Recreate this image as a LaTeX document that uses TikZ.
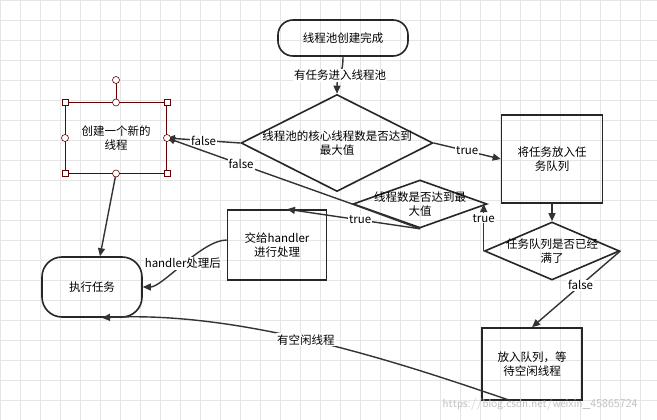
\documentclass[tikz,border=0pt]{standalone}
\usepackage{fontspec}
\setmainfont{Noto Sans CJK SC}
\usetikzlibrary{shapes.geometric,arrows.meta}
\begin{document}
\begin{tikzpicture}[x=1pt,y=-1pt,font=\fontsize{11.5}{14}\selectfont,
 box/.style={draw=black!85,line width=1.6pt,minimum width=#1,align=center,inner sep=1pt},
 dia/.style={draw=black!85,line width=1.6pt,diamond,aspect=2.4,align=center,inner sep=-14pt},
 rnd/.style={draw=black!85,line width=1.6pt,rounded corners=15pt,align=center},
 con/.style={line width=1.4pt,draw=black!80,-{Triangle[length=8pt,width=7pt]}},
 lab/.style={fill=white,inner sep=1pt},
 hdl/.style={draw=red!40!black,fill=white,line width=0.6pt}]
\useasboundingbox (0,0) rectangle (657,420);
\fill[white] (0,0) rectangle (657,420);
\draw[black!10,step=20pt] (0,0) grid (657,420);
\node[rnd,minimum width=130pt,minimum height=36pt] (start) at (343,38) {线程池创建完成};
\node[dia,minimum width=192pt,minimum height=97pt] (d1) at (337,143) {线程池的核心线程数是否达到\\最大值};
\node[box,draw=red!40!black,line width=1pt,minimum width=101pt,minimum height=70pt] (cr) at (116,138) {创建一个新的\\线程};
\node[box,minimum width=101pt,minimum height=88pt] (q) at (552,159) {将任务放入任\\务队列};
\node[dia,minimum width=134pt,minimum height=48pt,aspect=2.8] (d2) at (420,204) {线程数是否达到最\\大值};
\node[box,minimum width=99pt,minimum height=70pt] (h) at (277,245) {交给handler\\进行处理};
\node[dia,minimum width=135pt,minimum height=58pt,aspect=2.3] (d3) at (552,251) {任务队列是否已经\\满了};
\node[rnd,rounded corners=20pt,minimum width=100pt,minimum height=60pt] (ex) at (92,287) {执行任务};
\node[box,minimum width=100pt,minimum height=72pt] (w) at (532,364) {放入队列，等\\待空闲线程};
% connectors
\draw[con] (start.south) .. controls +(0,20) and +(0,-20) .. node[lab,pos=0.5]{有任务进入线程池} (d1.north);
\draw[con] (d1.west) -- node[lab]{false} (cr.east);
\draw[con] (d1.east) -- node[lab]{true} (q.west);
\draw[con] (d2.south) -- (d2.west) -- node[lab,pos=0.6]{false} (cr.east);
\draw[con] (d2.south) -- node[lab,pos=0.45]{true} ([xshift=10pt]h.north);
\draw[con] (d3.west) -- node[lab,pos=0.7]{true} (d3.west |- d2.east);
\draw[con] (q.south) -- (d3.north);
\draw[con] (d3.east) -- node[lab,pos=0.45]{false} (w.north);
\draw[con] (cr.south) -- ([xshift=8pt]ex.north);
\draw[con] ([yshift=5pt]h.west) .. controls +(-25,0) and +(20,0) .. node[lab,pos=0.5]{handler处理后} (ex.east);
\draw[con] ([xshift=30pt]w.south west) .. controls (420,370) and (250,310) .. node[lab,pos=0.55]{有空闲线程} ([xshift=10pt]ex.south);
% selection handles
\draw[red!40!black,line width=0.6pt] (cr.north) -- (116,80);
\draw[hdl] (116,80) circle (3.5pt);
\foreach \a in {north,south,east,west} \draw[hdl] (cr.\a) circle (3.5pt);
\foreach \a in {north west,north east,south west,south east} \draw[hdl] ([xshift=-3pt,yshift=-3pt]cr.\a) rectangle ([xshift=3pt,yshift=3pt]cr.\a);
\node[text=black!25,font=\fontsize{12}{12}\selectfont\sffamily] (wm) at (540,404) {https://blog.csdn.net/weixin\_45865724};
\end{tikzpicture}
\end{document}
